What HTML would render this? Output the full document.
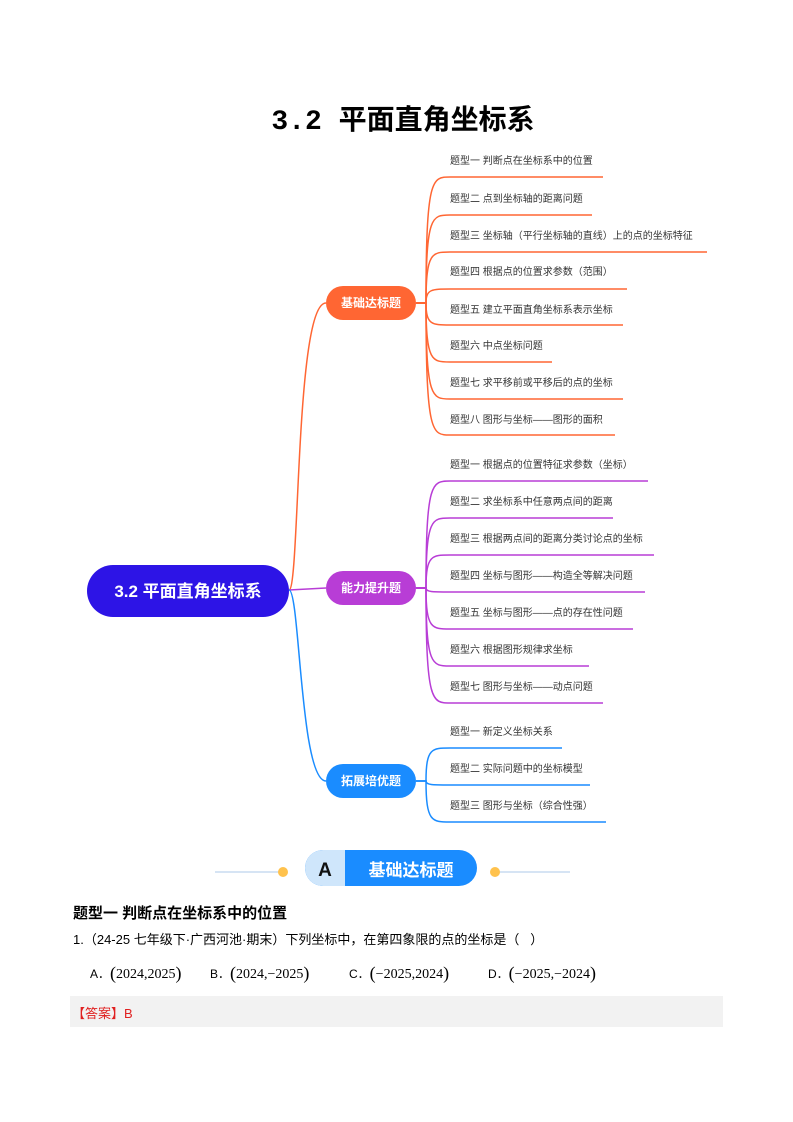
<!DOCTYPE html>
<html><head><meta charset="utf-8"><style>
body{margin:0;background:#fff;}
.p{position:relative;width:793px;height:1122px;overflow:hidden;font-family:"Liberation Sans","Noto Sans CJK SC",sans-serif;}
.t{position:absolute;white-space:nowrap;}
.m{font-family:'Liberation Serif',serif;font-size:14px}
.m b{font-weight:normal;font-size:18px;position:relative;top:1px}
</style></head><body><div class="p">
<div class="t" style="left:0;width:806px;text-align:center;top:98px;font-size:28px;font-weight:bold;font-family:'Liberation Mono','Noto Sans CJK SC',monospace;">3.2 平面直角坐标系</div>
<svg width="793" height="1122" style="position:absolute;left:0;top:0" font-family="Liberation Sans, Noto Sans CJK SC, sans-serif">
<g fill="none" stroke-width="1.5">
<path d="M289,590 C300,590 295,303 326,303" stroke="#ff6633"/>
<path d="M289,590 L326,588" stroke="#b83dd6"/>
<path d="M289,590 C300,590 300,781 326,781" stroke="#1a8cff"/>
<g stroke="#ff6633">
<path d="M416,303 L426,303 C426,177 432,177 450,177 L603,177"/>
<path d="M416,303 L426,303 C426,215 432,215 450,215 L592,215"/>
<path d="M416,303 L426,303 C426,252 432,252 450,252 L707,252"/>
<path d="M416,303 L426,303 C426,289 432,289 450,289 L627,289"/>
<path d="M416,303 L426,303 C426,325 432,325 450,325 L623,325"/>
<path d="M416,303 L426,303 C426,362 432,362 450,362 L552,362"/>
<path d="M416,303 L426,303 C426,399 432,399 450,399 L623,399"/>
<path d="M416,303 L426,303 C426,435 432,435 450,435 L615,435"/>
</g>
<g stroke="#b83dd6">
<path d="M416,588 L426,588 C426,481 432,481 450,481 L648,481"/>
<path d="M416,588 L426,588 C426,518 432,518 450,518 L613,518"/>
<path d="M416,588 L426,588 C426,555 432,555 450,555 L654,555"/>
<path d="M416,588 L426,588 C426,592 432,592 450,592 L645,592"/>
<path d="M416,588 L426,588 C426,629 432,629 450,629 L633,629"/>
<path d="M416,588 L426,588 C426,666 432,666 450,666 L589,666"/>
<path d="M416,588 L426,588 C426,703 432,703 450,703 L603,703"/>
</g>
<g stroke="#1a8cff">
<path d="M416,781 L426,781 C426,748 432,748 450,748 L562,748"/>
<path d="M416,781 L426,781 C426,785 432,785 450,785 L590,785"/>
<path d="M416,781 L426,781 C426,822 432,822 450,822 L606,822"/>
</g>
</g>
<rect x="87" y="565" width="202" height="52" rx="26" fill="#2d14e6"/>
<text x="188" y="597" text-anchor="middle" fill="#fff" font-size="17" font-weight="bold">3.2 平面直角坐标系</text>
<rect x="326" y="286" width="90" height="34" rx="17" fill="#ff6633"/>
<text x="371" y="307" text-anchor="middle" fill="#fff" font-size="12" font-weight="bold">基础达标题</text>
<rect x="326" y="571" width="90" height="34" rx="17" fill="#b83dd6"/>
<text x="371" y="592" text-anchor="middle" fill="#fff" font-size="12" font-weight="bold">能力提升题</text>
<rect x="326" y="764" width="90" height="34" rx="17" fill="#1a8cff"/>
<text x="371" y="785" text-anchor="middle" fill="#fff" font-size="12" font-weight="bold">拓展培优题</text>
<g font-size="10" fill="#333">
<text x="450" y="164">题型一 判断点在坐标系中的位置</text>
<text x="450" y="202">题型二 点到坐标轴的距离问题</text>
<text x="450" y="239">题型三 坐标轴（平行坐标轴的直线）上的点的坐标特征</text>
<text x="450" y="275">题型四 根据点的位置求参数（范围）</text>
<text x="450" y="313">题型五 建立平面直角坐标系表示坐标</text>
<text x="450" y="349">题型六 中点坐标问题</text>
<text x="450" y="386">题型七 求平移前或平移后的点的坐标</text>
<text x="450" y="423">题型八 图形与坐标——图形的面积</text>
<text x="450" y="468">题型一 根据点的位置特征求参数（坐标）</text>
<text x="450" y="505">题型二 求坐标系中任意两点间的距离</text>
<text x="450" y="542">题型三 根据两点间的距离分类讨论点的坐标</text>
<text x="450" y="579">题型四 坐标与图形——构造全等解决问题</text>
<text x="450" y="616">题型五 坐标与图形——点的存在性问题</text>
<text x="450" y="653">题型六 根据图形规律求坐标</text>
<text x="450" y="690">题型七 图形与坐标——动点问题</text>
<text x="450" y="735">题型一 新定义坐标关系</text>
<text x="450" y="772">题型二 实际问题中的坐标模型</text>
<text x="450" y="809">题型三 图形与坐标（综合性强）</text>
</g>
<line x1="215" y1="872" x2="283" y2="872" stroke="#c8dcf0" stroke-width="1.5"/>
<line x1="495" y1="872" x2="570" y2="872" stroke="#c8dcf0" stroke-width="1.5"/>
<circle cx="283" cy="872" r="5" fill="#ffc24d"/>
<circle cx="495" cy="872" r="5" fill="#ffc24d"/>
<rect x="305" y="850" width="172" height="36" rx="18" fill="#1a8cff"/>
<path d="M323,850 L345,850 L345,886 L323,886 A18,18 0 0 1 323,850 Z" fill="#cfe6fb"/>
<text x="325" y="876" text-anchor="middle" font-size="19" font-weight="bold" fill="#111">A</text>
<text x="411" y="876" text-anchor="middle" font-size="17" font-weight="bold" fill="#fff">基础达标题</text>
</svg>
<div class="t" style="left:73px;top:902px;font-size:15px;font-weight:bold;">题型一 判断点在坐标系中的位置</div>
<div class="t" style="left:73px;top:929px;font-size:13px;">1.（24-25 七年级下·广西河池·期末）下列坐标中，在第四象限的点的坐标是（&nbsp;&nbsp;&nbsp;）</div>
<div class="t" style="left:90px;top:962px;font-size:12px;">A．<span class="m"><b>(</b>2024,2025<b>)</b></span></div>
<div class="t" style="left:210px;top:962px;font-size:12px;">B．<span class="m"><b>(</b>2024,−2025<b>)</b></span></div>
<div class="t" style="left:349px;top:962px;font-size:12px;">C．<span class="m"><b>(</b>−2025,2024<b>)</b></span></div>
<div class="t" style="left:488px;top:962px;font-size:12px;">D．<span class="m"><b>(</b>−2025,−2024<b>)</b></span></div>
<div style="position:absolute;left:70px;top:996px;width:653px;height:31px;background:#f2f2f2;"></div>
<div class="t" style="left:72px;top:1003px;font-size:13px;color:#e02020;">【答案】B</div>
</div></body></html>
